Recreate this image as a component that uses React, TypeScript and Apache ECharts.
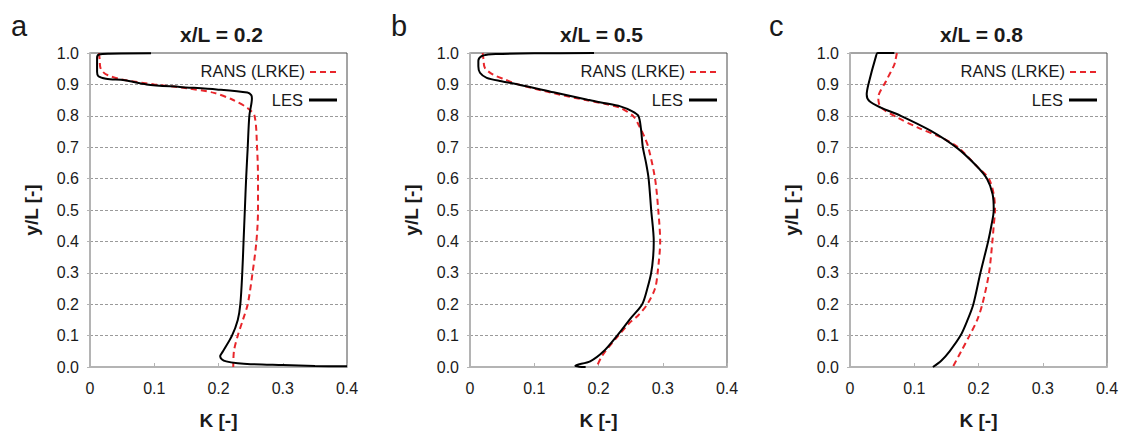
import React, { useEffect, useRef } from "react";
import * as echarts from "echarts";

// ---- Data (K [-], y/L [-]) ----
const panelTitles = ["x/L = 0.2", "x/L = 0.5", "x/L = 0.8"];
const panelLetters = ["a", "b", "c"];
const xTicks = [0, 0.1, 0.2, 0.3, 0.4];
const yTicks = [0, 0.1, 0.2, 0.3, 0.4, 0.5, 0.6, 0.7, 0.8, 0.9, 1.0];
const seriesNames = ["RANS (LRKE)", "LES"];

const lesA: number[][] = [
  [0.095, 0.999], [0.03, 0.998], [0.014, 0.995], [0.011, 0.985], [0.011, 0.94], [0.013, 0.926],
  [0.025, 0.918], [0.054, 0.913], [0.088, 0.9], [0.14, 0.892], [0.197, 0.884], [0.245, 0.874],
  [0.251, 0.866], [0.252, 0.855], [0.248, 0.8], [0.2455, 0.7], [0.243, 0.6], [0.241, 0.5],
  [0.239, 0.4], [0.237, 0.3], [0.234, 0.2], [0.23, 0.15], [0.221, 0.1], [0.207, 0.05],
  [0.2026, 0.034], [0.205, 0.025], [0.212, 0.018], [0.23, 0.012], [0.25, 0.009], [0.3, 0.006],
  [0.35, 0.003], [0.4, 0.002],
];
const ransA: number[][] = [
  [0.014, 1.0], [0.015, 0.98], [0.016, 0.955], [0.02, 0.94], [0.028, 0.929], [0.049, 0.916],
  [0.1, 0.9], [0.15, 0.888], [0.193, 0.873], [0.222, 0.851], [0.245, 0.825], [0.256, 0.8],
  [0.26, 0.7], [0.2615, 0.6], [0.2615, 0.5], [0.259, 0.4], [0.253, 0.3], [0.2455, 0.2],
  [0.238, 0.15], [0.23, 0.1], [0.224, 0.05], [0.223, 0.0],
];
const lesB: number[][] = [
  [0.193, 1.0], [0.1, 0.999], [0.04, 0.997], [0.028, 0.995], [0.018, 0.99], [0.013, 0.975],
  [0.013, 0.958], [0.0155, 0.937], [0.026, 0.921], [0.049, 0.91], [0.075, 0.9], [0.13, 0.875],
  [0.183, 0.851], [0.208, 0.841], [0.234, 0.83], [0.252, 0.815], [0.262, 0.8], [0.266, 0.76],
  [0.269, 0.7], [0.274, 0.65], [0.278, 0.6], [0.282, 0.5], [0.286, 0.4], [0.285, 0.35],
  [0.282, 0.3], [0.276, 0.25], [0.268, 0.2], [0.25, 0.155], [0.229, 0.1], [0.208, 0.05],
  [0.187, 0.018], [0.164, 0.004], [0.17, 0.001], [0.18, 0.0],
];
const ransB: number[][] = [
  [0.0196, 1.0], [0.021, 0.98], [0.023, 0.953], [0.036, 0.931], [0.054, 0.916], [0.075, 0.9],
  [0.13, 0.872], [0.18, 0.85], [0.21, 0.838], [0.234, 0.825], [0.2545, 0.798], [0.2635, 0.767],
  [0.271, 0.735], [0.2775, 0.7], [0.288, 0.6], [0.293, 0.5], [0.296, 0.4], [0.292, 0.3],
  [0.288, 0.25], [0.276, 0.2], [0.262, 0.165], [0.248, 0.14], [0.231, 0.1], [0.2105, 0.05],
  [0.204, 0.03], [0.197, 0.0],
];
const lesC: number[][] = [
  [0.069, 1.0], [0.043, 1.0], [0.0405, 0.99], [0.0286, 0.9], [0.026, 0.868], [0.03, 0.847],
  [0.048, 0.826], [0.079, 0.8], [0.126, 0.752], [0.167, 0.697], [0.197, 0.64], [0.213, 0.6],
  [0.222, 0.55], [0.2237, 0.5], [0.22, 0.45], [0.215, 0.4], [0.203, 0.3], [0.192, 0.2],
  [0.183, 0.15], [0.172, 0.1], [0.155, 0.05], [0.142, 0.02], [0.129, 0.0],
];
const ransC: number[][] = [
  [0.073, 1.0], [0.071, 0.98], [0.069, 0.963], [0.056, 0.91], [0.044, 0.858], [0.045, 0.84],
  [0.048, 0.826], [0.074, 0.794], [0.105, 0.763], [0.142, 0.731], [0.168, 0.7], [0.198, 0.638],
  [0.216, 0.6], [0.2237, 0.55], [0.2257, 0.5], [0.2237, 0.45], [0.2216, 0.4], [0.2164, 0.3],
  [0.206, 0.2], [0.198, 0.15], [0.186, 0.1], [0.173, 0.05], [0.16, 0.0],
];

const lesData = [lesA, lesB, lesC];
const ransData = [ransA, ransB, ransC];

// ---- Layout ----
const FONT = "'Liberation Sans', Arial, sans-serif";
const gridLefts = [90, 470, 850];
const gridWidth = 257;
const gridTop = 53;
const gridHeight = 316;
const RED = "#e8262b";

export default function App() {
  const ref = useRef<HTMLDivElement>(null);

  useEffect(() => {
    if (!ref.current) return;
    const chart = echarts.init(ref.current, null, { renderer: "svg" });

    const grids = gridLefts.map((left) => ({
      left,
      top: gridTop,
      width: gridWidth,
      height: gridHeight,
      show: true,
      borderColor: "#4a4a4a",
      borderWidth: 1,
      backgroundColor: "transparent",
    }));

    const xAxes = gridLefts.map((_, i) => ({
      type: "value",
      gridIndex: i,
      min: xTicks[0],
      max: xTicks[xTicks.length - 1],
      interval: 0.1,
      name: "K [-]",
      nameLocation: "middle",
      nameGap: 44,
      nameTextStyle: { fontFamily: FONT, fontSize: 19, fontWeight: "bold", color: "#1a1a1a" },
      axisLine: { show: true, lineStyle: { color: "#b4b4b4", width: 2 } },
      axisTick: { show: true, inside: true, length: 4, lineStyle: { color: "#b4b4b4", width: 1 } },
      axisLabel: {
        fontFamily: FONT,
        fontSize: 16,
        color: "#1a1a1a",
        margin: 13,
        formatter: (v: number) => (v === 0 ? "0" : v.toFixed(1)),
      },
      splitLine: { show: false },
    }));

    const yAxes = gridLefts.map((_, i) => ({
      type: "value",
      gridIndex: i,
      min: yTicks[0],
      max: yTicks[yTicks.length - 1],
      interval: 0.1,
      name: "y/L [-]",
      nameLocation: "middle",
      nameGap: 49,
      nameTextStyle: { fontFamily: FONT, fontSize: 19, fontWeight: "bold", color: "#1a1a1a" },
      axisLine: { show: true, lineStyle: { color: "#b4b4b4", width: 2 } },
      axisTick: { show: true, inside: false, length: 3, lineStyle: { color: "#b4b4b4", width: 1 } },
      axisLabel: {
        fontFamily: FONT,
        fontSize: 16,
        color: "#1a1a1a",
        margin: 11,
        formatter: (v: number) => v.toFixed(1),
      },
      splitLine: {
        show: true,
        showMinLine: false,
        showMaxLine: false,
        lineStyle: { color: "#9a9a9a", width: 1, type: [3, 2] },
      },
    }));

    const series: any[] = [];
    gridLefts.forEach((_, i) => {
      series.push({
        name: seriesNames[0],
        type: "line",
        xAxisIndex: i,
        yAxisIndex: i,
        data: ransData[i],
        showSymbol: false,
        symbol: "none",
        smooth: 0.3,
        lineStyle: { color: RED, width: 2, type: [6, 4] },
        z: 3,
      });
      series.push({
        name: seriesNames[1],
        type: "line",
        xAxisIndex: i,
        yAxisIndex: i,
        data: lesData[i],
        showSymbol: false,
        symbol: "none",
        smooth: 0.3,
        lineStyle: { color: "#000", width: 2 },
        z: 4,
      });
    });

    const titles = gridLefts.map((left, i) => ({
      text: panelTitles[i],
      left: left + gridWidth / 2 - 2,
      top: 19,
      textAlign: "center",
      textStyle: { fontFamily: FONT, fontSize: 21, fontWeight: "bold", color: "#1a1a1a" },
    }));

    const graphics: any[] = [];
    const letterX = [11, 391, 769];
    gridLefts.forEach((left, i) => {
      const right = left + gridWidth;
      graphics.push({
        type: "text",
        left: letterX[i],
        top: 11,
        style: { text: panelLetters[i], font: `29px ${FONT}`, fill: "#1a1a1a" },
      });
      graphics.push({
        type: "text",
        x: right - 42,
        y: 71,
        style: {
          text: seriesNames[0],
          font: `16.5px ${FONT}`,
          fill: "#1a1a1a",
          align: "right",
          verticalAlign: "middle",
        },
      });
      graphics.push({
        type: "line",
        shape: { x1: right - 37, y1: 72, x2: right - 8, y2: 72 },
        style: { stroke: RED, lineWidth: 2, lineDash: [6, 4] },
      });
      graphics.push({
        type: "text",
        x: right - 44,
        y: 100,
        style: {
          text: seriesNames[1],
          font: `16.5px ${FONT}`,
          fill: "#1a1a1a",
          align: "right",
          verticalAlign: "middle",
        },
      });
      graphics.push({
        type: "line",
        shape: { x1: right - 38, y1: 100, x2: right - 10, y2: 100 },
        style: { stroke: "#000", lineWidth: 3 },
      });
    });

    chart.setOption({
      animation: false,
      backgroundColor: "#ffffff",
      title: titles,
      grid: grids,
      xAxis: xAxes,
      yAxis: yAxes,
      series,
      graphic: graphics,
    });

    return () => chart.dispose();
  }, []);

  return (
    <div
      ref={ref}
      style={{ position: "fixed", left: 0, top: 0, width: 1122, height: 435, background: "#fff" }}
    />
  );
}
